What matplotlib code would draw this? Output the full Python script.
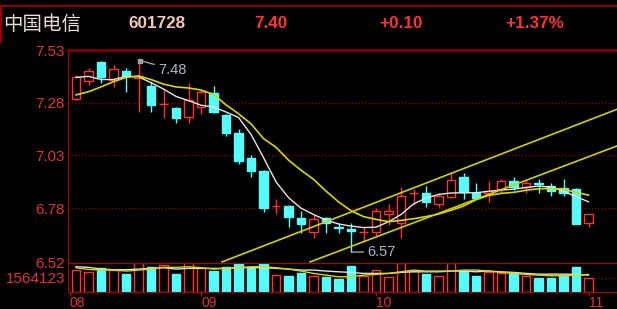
import matplotlib
matplotlib.use("Agg")
import matplotlib.pyplot as plt
from matplotlib import font_manager
from matplotlib.lines import Line2D
import numpy as np

# ---- data ----
name = "中国电信"
code = "601728"
last_price = "7.40"
change = "+0.10"
change_pct = "+1.37%"

opens = [7.300, 7.383, 7.473, 7.388, 7.430, 7.395, 7.360, 7.272, 7.255, 7.212, 7.260, 7.326, 7.222, 7.136,
         7.018, 6.956, 6.788, 6.790, 6.733, 6.667, 6.733, 6.692, 6.680, 6.665, 6.667, 6.752, 6.710, 6.850,
         6.852, 6.800, 6.833, 6.928, 6.852, 6.852, 6.870, 6.909, 6.880, 6.897, 6.885, 6.876, 6.871, 6.710]
highs = [7.411, 7.445, 7.478, 7.459, 7.445, 7.480, 7.378, 7.345, 7.260, 7.374, 7.340, 7.359, 7.227, 7.155,
         7.032, 6.960, 6.823, 6.795, 6.767, 6.748, 6.738, 6.710, 6.710, 6.690, 6.780, 6.800, 6.880, 6.870,
         6.885, 6.852, 6.950, 6.947, 6.900, 6.910, 6.918, 6.928, 6.914, 6.918, 6.900, 6.918, 6.875, 6.752]
lows = [7.295, 7.364, 7.374, 7.355, 7.331, 7.236, 7.236, 7.208, 7.184, 7.184, 7.227, 7.230, 7.122, 6.989,
        6.928, 6.762, 6.752, 6.690, 6.662, 6.639, 6.662, 6.662, 6.572, 6.620, 6.648, 6.700, 6.639, 6.795,
        6.786, 6.786, 6.830, 6.823, 6.828, 6.810, 6.852, 6.866, 6.852, 6.852, 6.838, 6.838, 6.705, 6.690]
closes = [7.400, 7.430, 7.402, 7.440, 7.407, 7.405, 7.269, 7.276, 7.208, 7.293, 7.331, 7.237, 7.136, 7.004,
          6.956, 6.781, 6.792, 6.738, 6.705, 6.729, 6.710, 6.688, 6.672, 6.669, 6.766, 6.766, 6.838, 6.854,
          6.810, 6.838, 6.914, 6.857, 6.828, 6.862, 6.909, 6.880, 6.900, 6.893, 6.862, 6.852, 6.705, 6.752]

ma_white = [7.400, 7.405, 7.390, 7.390, 7.405, 7.403, 7.375, 7.345, 7.310, 7.290, 7.268, 7.260, 7.236, 7.210,
            7.130, 7.020, 6.905, 6.830, 6.780, 6.750, 6.724, 6.705, 6.695, 6.688, 6.690, 6.715, 6.750, 6.800,
            6.828, 6.845, 6.852, 6.853, 6.853, 6.860, 6.866, 6.870, 6.878, 6.885, 6.880, 6.860, 6.835, 6.810]
ma_yellow = [7.317, 7.332, 7.355, 7.380, 7.400, 7.407, 7.390, 7.368, 7.355, 7.350, 7.340, 7.320, 7.270, 7.228,
             7.180, 7.110, 7.069, 7.008, 6.960, 6.917, 6.861, 6.810, 6.768, 6.740, 6.727, 6.716, 6.722, 6.730,
             6.740, 6.752, 6.770, 6.790, 6.820, 6.840, 6.850, 6.855, 6.865, 6.872, 6.873, 6.870, 6.855, 6.842]

# trend channel anchors: (candle position, price)
upper_channel = [(11.68, 6.525), (43.28, 7.249)]
lower_channel = [(18.72, 6.525), (43.28, 7.075)]

volumes = [2420000, 2160000, 2680000, 2420000, 1940000, 3170000, 2720000, 2980000, 1940000, 3170000,
           2610000, 2350000, 2720000, 3170000, 2680000, 3170000, 1860000, 1790000, 2050000, 1790000,
           1680000, 1380000, 2870000, 1790000, 2420000, 1680000, 3170000, 2350000, 1940000, 1750000,
           3170000, 2350000, 1790000, 2230000, 2050000, 2050000, 1750000, 1560000, 1560000, 1860000,
           2720000, 1490000]
vol_ma_white = [2790000, 2720000, 2530000, 2460000, 2460000, 2530000, 2610000, 2680000, 2530000, 2610000,
                2610000, 2610000, 2610000, 2680000, 2680000, 2680000, 2610000, 2530000, 2420000, 2420000,
                2310000, 2230000, 2160000, 2050000, 2050000, 2050000, 2160000, 2230000, 2230000, 2230000,
                2310000, 2310000, 2230000, 2310000, 2230000, 2160000, 2050000, 1970000, 1970000, 1970000,
                1940000, 1860000]
vol_ma_yellow = [2680000, 2490000, 2420000, 2420000, 2310000, 2420000, 2530000, 2720000, 2720000, 2790000,
                 2680000, 2530000, 2610000, 2680000, 2790000, 2790000, 2680000, 2530000, 2310000, 2050000,
                 1860000, 1680000, 1680000, 1860000, 1940000, 2050000, 2230000, 2420000, 2310000, 2310000,
                 2310000, 2420000, 2420000, 2310000, 2160000, 2050000, 1940000, 1860000, 1790000, 1790000,
                 1860000, 1940000]
vol_ref = 1564123

price_ticks = [7.53, 7.28, 7.03, 6.78, 6.52]
month_labels = ["08", "09", "10", "11"]
month_pos = [-0.48, 10, 24, 41]

# ---- style ----
RED = "#ff3232"
CYAN = "#54fcfc"
AXRED = "#b00000"
TXTRED = "#e83030"
W, H = 617, 309

names = {f.name for f in font_manager.fontManager.ttflist}
if "Liberation Sans Narrow" in names:
    head_font, head_size = "Liberation Sans Narrow", 15
else:
    head_font, head_size = "Liberation Sans", 12.3
plt.rcParams["font.family"] = ["Liberation Sans", "DejaVu Sans"]


def box(x0, y0, x1, y1):
    return [x0 / W, 1 - y1 / H, (x1 - x0) / W, (y1 - y0) / H]


fig = plt.figure(figsize=(W / 100, H / 100), dpi=100, facecolor="black")
ax = fig.add_axes(box(68, 50, 617, 263), facecolor="black")
axv = fig.add_axes(box(68, 263, 617, 292), facecolor="black", sharex=ax)

x = np.arange(len(opens))
o = np.array(opens)
c = np.array(closes)
up = c >= o
cols = np.where(up, RED, CYAN)

# candles
ax.vlines(x, lows, highs, colors=cols, lw=1, zorder=2)
ax.bar(x, np.abs(c - o), bottom=np.minimum(o, c), width=0.66,
       color=np.where(up, "black", CYAN), edgecolor=cols, lw=1, zorder=2.5)

ax.plot(x, ma_white, color="#e6e6e6", lw=1, zorder=3)
ax.plot(x, ma_yellow, color="#d8d800", lw=1.2, zorder=3)
for ch in (upper_channel, lower_channel):
    xs, ys = zip(*ch)
    ax.plot(xs, ys, color="#d0d000", lw=1.2, zorder=3)

for lvl in price_ticks[1:-1]:
    ax.axhline(lvl, color="#a00000", lw=1, ls=(0, (0.8, 1.6)), zorder=1)

# high / low labels
ih = int(np.argmax(highs))
il = int(np.argmin(lows))
ax.plot(ih + 0.15, highs[ih], marker="s", ms=3, color="#a0a0a0", zorder=4)
ax.annotate(f"{highs[ih]:.2f}", xy=(ih + 0.15, highs[ih]), xytext=(13, -6.5), textcoords="offset points",
            ha="left", va="center", color="#a8b8c8", fontsize=10.5,
            arrowprops=dict(arrowstyle="-", color="#a0a0a0", lw=1, shrinkA=1, shrinkB=0))
ax.annotate(f"{lows[il]:.2f}", xy=(il, lows[il]), xytext=(12, 0), textcoords="offset points",
            ha="left", va="center", color="#a8b8c8", fontsize=10.5,
            arrowprops=dict(arrowstyle="-", color="#a0a0a0", lw=1, shrinkA=1, shrinkB=0))

ax.set_ylim(6.52, 7.53)
ax.set_xlim(-0.64, 43.28)
ax.set_yticks(price_ticks)
ax.set_yticklabels([f"{t:.2f}" for t in price_ticks])
ax.tick_params(axis="y", length=0, pad=2, labelcolor=TXTRED, labelsize=11)
ax.tick_params(axis="x", length=0, labelbottom=False)
for s in ("right", "bottom"):
    ax.spines[s].set_visible(False)
ax.spines["top"].set_color("#800000")
ax.spines["top"].set_linewidth(2)
ax.spines["left"].set_color(AXRED)

# volume panel
axv.bar(x, volumes, width=0.66, color=np.where(up, "black", CYAN), edgecolor=cols, lw=1, zorder=2)
axv.plot(x, vol_ma_white, color="#e0e0e0", lw=1, zorder=3)
axv.plot(x, vol_ma_yellow, color="#d8d800", lw=1, zorder=3)
axv.axhline(vol_ref, color="#a00000", lw=1, ls=(0, (0.8, 1.6)), zorder=1)
axv.set_ylim(0, 3200000)
axv.set_yticks([vol_ref])
axv.set_yticklabels([str(vol_ref)])
axv.tick_params(axis="y", length=0, pad=2, labelcolor=TXTRED, labelsize=11)
axv.set_xticks(month_pos)
axv.set_xticklabels(month_labels, ha="left")
axv.tick_params(axis="x", direction="out", length=3, color=AXRED, width=1,
                pad=0, labelcolor=TXTRED, labelsize=10)
axv.spines["right"].set_visible(False)
for s in ("top", "bottom", "left"):
    axv.spines[s].set_color(AXRED)

# header
yh = 1 - 24 / H
fig.text(3 / W, yh, name, family=["Noto Sans CJK SC", "DejaVu Sans"], fontsize=14,
         color="#eadcd0", va="center", ha="left")
fig.text(128 / W, yh, code, family=head_font, fontsize=head_size, fontweight="bold",
         color="#f2c8b0", va="center", ha="left")
fig.text(254 / W, yh, last_price, family=head_font, fontsize=head_size, fontweight="bold",
         color=RED, va="center", ha="left")
fig.text(379 / W, yh, change, family=head_font, fontsize=head_size, fontweight="bold",
         color=RED, va="center", ha="left")
fig.text(505 / W, yh, change_pct, family=head_font, fontsize=head_size, fontweight="bold",
         color=RED, va="center", ha="left")
fig.add_artist(Line2D([0, 1], [1 - 6 / H] * 2, color="#900000", lw=1.5))
fig.add_artist(Line2D([0.8 / W] * 2, [1 - 6 / H, 1 - 42 / H], color="#900000", lw=1.5))

fig.savefig("out.png", dpi=100, facecolor="black")
